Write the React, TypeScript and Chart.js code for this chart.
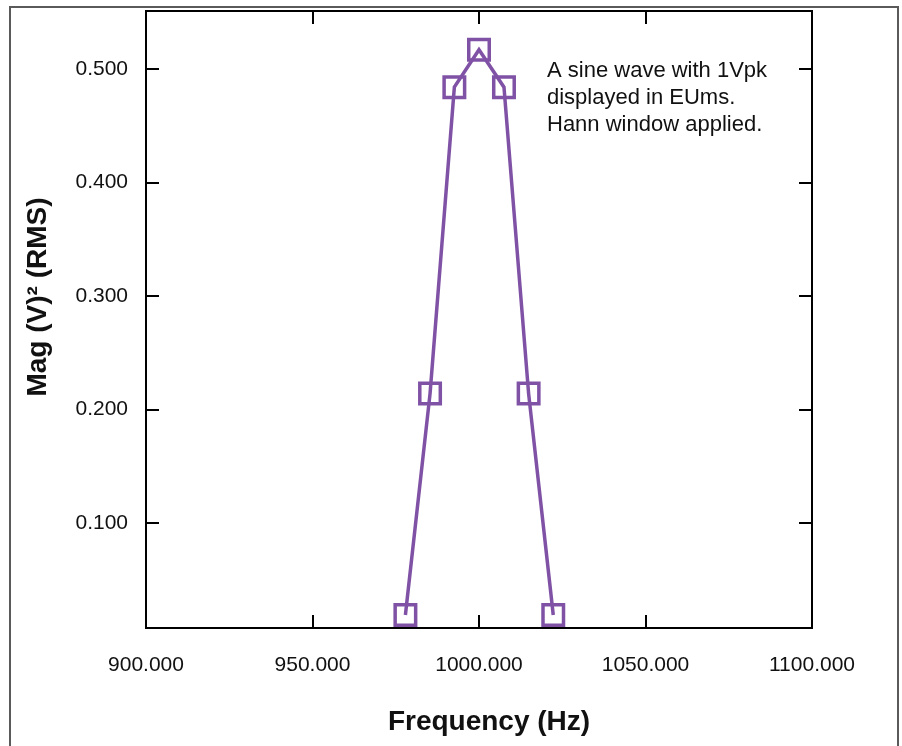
import { useEffect, useRef } from "react";
import { Chart, registerables } from "chart.js";

Chart.register(...registerables);

// ---- data ----
const FREQUENCIES = [977.9, 985.3, 992.6, 1000.0, 1007.5, 1014.9, 1022.3];
const MAGNITUDES = [0.019, 0.214, 0.484, 0.517, 0.484, 0.214, 0.019];
const X_TICKS = [900, 950, 1000, 1050, 1100];
const Y_TICKS = [0.1, 0.2, 0.3, 0.4, 0.5];
const NOTE_LINES = ["A sine wave with 1Vpk", "displayed in EUms.", "Hann window applied."];
const X_TITLE = "Frequency (Hz)";
const Y_TITLE = "Mag (V)\u00B2 (RMS)";

const FONT = "'Liberation Sans', Arial, Helvetica, sans-serif";
const PURPLE = "#8052A6";
const TEXT = "#111111";

const decorPlugin = {
  id: "decor",
  beforeDraw(chart: any) {
    const ctx = chart.ctx;
    ctx.save();
    ctx.fillStyle = "#ffffff";
    ctx.fillRect(0, 0, chart.width, chart.height);
    // outer border (no bottom edge)
    ctx.strokeStyle = "#5a5a5a";
    ctx.lineWidth = 2;
    ctx.beginPath();
    ctx.moveTo(10, chart.height + 2);
    ctx.lineTo(10, 7);
    ctx.lineTo(898, 7);
    ctx.lineTo(898, chart.height + 2);
    ctx.stroke();
    ctx.restore();
  },
  afterDraw(chart: any) {
    const ctx = chart.ctx;
    const a = chart.chartArea;
    const xs = chart.scales.x;
    const ys = chart.scales.y;
    const TL = 13;
    ctx.save();
    ctx.strokeStyle = "#000000";
    ctx.lineWidth = 2;
    ctx.strokeRect(a.left, a.top, a.right - a.left, a.bottom - a.top);
    ctx.beginPath();
    for (const v of X_TICKS) {
      const px = Math.round(xs.getPixelForValue(v));
      if (px <= a.left + 1 || px >= a.right - 1) continue;
      ctx.moveTo(px, a.bottom);
      ctx.lineTo(px, a.bottom - TL);
      ctx.moveTo(px, a.top);
      ctx.lineTo(px, a.top + TL);
    }
    for (const v of Y_TICKS) {
      const py = Math.round(ys.getPixelForValue(v));
      ctx.moveTo(a.left, py);
      ctx.lineTo(a.left + TL, py);
      ctx.moveTo(a.right, py);
      ctx.lineTo(a.right - TL, py);
    }
    ctx.stroke();

    // annotation
    ctx.fillStyle = TEXT;
    ctx.font = `22px ${FONT}`;
    ctx.textAlign = "left";
    ctx.textBaseline = "middle";
    NOTE_LINES.forEach((line, i) => {
      ctx.fillText(line, 547, 71 + i * 27);
    });

    // axis titles
    ctx.font = `bold 28px ${FONT}`;
    ctx.textAlign = "center";
    ctx.textBaseline = "middle";
    ctx.fillText(X_TITLE, 489, 722);
    ctx.translate(38, 297);
    ctx.rotate(-Math.PI / 2);
    ctx.fillText(Y_TITLE, 0, 0);
    ctx.restore();
  },
};

export default function App() {
  const ref = useRef<HTMLCanvasElement | null>(null);

  useEffect(() => {
    if (!ref.current) return;
    const chart = new Chart(ref.current, {
      type: "line",
      data: {
        datasets: [
          {
            data: FREQUENCIES.map((f, i) => ({ x: f, y: MAGNITUDES[i] })),
            borderColor: PURPLE,
            borderWidth: 3.5,
            backgroundColor: "transparent",
            pointStyle: "rect",
            pointRadius: 14.5,
            pointBorderWidth: 3.5,
            pointBorderColor: PURPLE,
            pointBackgroundColor: "transparent",
            tension: 0,
            fill: false,
            clip: false,
          },
        ],
      },
      options: {
        responsive: false,
        animation: false,
        events: [],
        layout: { autoPadding: false, padding: { top: 11, right: 90, left: 0, bottom: 0 } },
        plugins: {
          legend: { display: false },
          tooltip: { enabled: false },
        },
        scales: {
          x: {
            type: "linear",
            min: 900,
            max: 1100,
            afterBuildTicks: (s: any) => {
              s.ticks = X_TICKS.map((v) => ({ value: v }));
            },
            afterFit: (s: any) => {
              s.height = 118;
              s.paddingLeft = 0;
              s.paddingRight = 0;
              s.paddingTop = 0;
              s.paddingBottom = 0;
            },
            grid: { drawOnChartArea: false, drawTicks: false },
            border: { display: false },
            ticks: {
              padding: 25,
              maxRotation: 0,
              autoSkip: false,
              color: TEXT,
              font: { family: FONT, size: 21 },
              callback: (v: any) => Number(v).toFixed(3),
            },
          },
          y: {
            type: "linear",
            min: 0.0075,
            max: 0.5511,
            afterBuildTicks: (s: any) => {
              s.ticks = Y_TICKS.map((v) => ({ value: v }));
            },
            afterFit: (s: any) => {
              s.width = 146;
              s.paddingLeft = 0;
              s.paddingRight = 0;
              s.paddingTop = 0;
              s.paddingBottom = 0;
            },
            grid: { drawOnChartArea: false, drawTicks: false },
            border: { display: false },
            ticks: {
              padding: 18,
              color: TEXT,
              font: { family: FONT, size: 21 },
              callback: (v: any) => Number(v).toFixed(3),
            },
          },
        },
      },
      plugins: [decorPlugin],
    } as any);
    return () => chart.destroy();
  }, []);

  return (
    <div style={{ position: "absolute", left: 0, top: 0, width: 902, height: 746 }}>
      <canvas ref={ref} width={902} height={746} style={{ display: "block" }} />
    </div>
  );
}
